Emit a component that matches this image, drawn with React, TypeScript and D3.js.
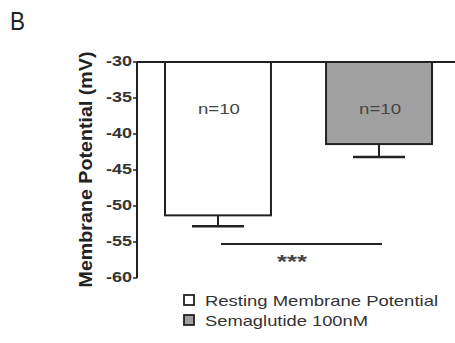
import React from "react";
import * as d3 from "d3";

const groups = ["Resting Membrane Potential", "Semaglutide 100nM"];
const means = [-51.3, -41.4];
const errors = [1.5, 1.8];
const fills = ["#ffffff", "#a0a0a0"];
const nLabels = ["n=10", "n=10"];
const yTicks = [-30, -35, -40, -45, -50, -55, -60];
const legendWidths = [233, 163];

const W = 455;
const H = 343;
const font = "'Liberation Sans', Arial, sans-serif";
const ink = "#222";

export default function App() {
  const y = d3.scaleLinear().domain([-30, -60]).range([62, 278]);
  const x = d3.scaleBand<string>().domain(groups).range([165, 432]).paddingInner(0.342);
  const bw = x.bandwidth();
  const capHalf = 26;
  const cx = (g: string) => (x(g) ?? 0) + bw / 2;

  return (
    <svg width={W} height={H} style={{ position: "absolute", left: 0, top: 0, background: "#fff" }}>
      <text x={10} y={30} fontFamily={font} fontSize={26} fill={ink} textLength={15} lengthAdjust="spacingAndGlyphs">B</text>
      {/* y axis */}
      <line x1={137} x2={137} y1={y(-30)} y2={y(-60)} stroke={ink} strokeWidth={2} />
      {yTicks.map((t) => (
        <g key={t}>
          <line x1={133} x2={137} y1={y(t)} y2={y(t)} stroke={ink} strokeWidth={1.5} />
          <text
            x={132}
            y={y(t) - 1}
            dy="0.35em"
            textAnchor="end"
            fontFamily={font}
            fontSize={14}
            fontWeight="bold"
            fill="#333"
            textLength={26}
            lengthAdjust="spacingAndGlyphs"
          >
            {t}
          </text>
        </g>
      ))}
      <text
        transform={`translate(92,${(y(-30) + y(-60)) / 2 - 0.5}) rotate(-90)`}
        textAnchor="middle"
        fontFamily={font}
        fontSize={18}
        fontWeight="bold"
        fill={ink}
        textLength={236}
        lengthAdjust="spacingAndGlyphs"
      >
        Membrane Potential (mV)
      </text>
      {/* bars hanging from -30 */}
      {groups.map((g, i) => {
        const c = cx(g);
        const yb = y(means[i]);
        const ye = y(means[i] - errors[i]);
        return (
          <g key={g}>
            <rect x={c - bw / 2} y={y(-30)} width={bw} height={yb - y(-30)} fill={fills[i]} stroke={ink} strokeWidth={2} />
            <line x1={c} x2={c} y1={yb} y2={ye} stroke={ink} strokeWidth={2} />
            <line x1={c - capHalf} x2={c + capHalf} y1={ye} y2={ye} stroke={ink} strokeWidth={2.5} />
            <text
              x={c + 1}
              y={114}
              textAnchor="middle"
              fontFamily={font}
              fontSize={15}
              fill="#444"
              textLength={42}
              lengthAdjust="spacingAndGlyphs"
            >
              {nLabels[i]}
            </text>
          </g>
        );
      })}
      {/* reference line at -30 */}
      <line x1={137} x2={W} y1={y(-30)} y2={y(-30)} stroke={ink} strokeWidth={2} />
      {/* significance */}
      <line x1={221} x2={382} y1={244} y2={244} stroke={ink} strokeWidth={2} />
      <text
        x={292}
        y={268}
        textAnchor="middle"
        fontFamily={font}
        fontSize={18}
        fontWeight="bold"
        fill="#444"
        textLength={30}
        lengthAdjust="spacingAndGlyphs"
      >
        ***
      </text>
      {/* legend */}
      {groups.map((g, i) => (
        <g key={"lg" + g}>
          <rect x={184} y={295 + i * 20} width={10} height={10} fill={fills[i]} stroke={ink} strokeWidth={1.8} />
          <text
            x={205}
            y={305.5 + i * 20}
            fontFamily={font}
            fontSize={15}
            fill="#333"
            textLength={legendWidths[i]}
            lengthAdjust="spacingAndGlyphs"
          >
            {g}
          </text>
        </g>
      ))}
    </svg>
  );
}
